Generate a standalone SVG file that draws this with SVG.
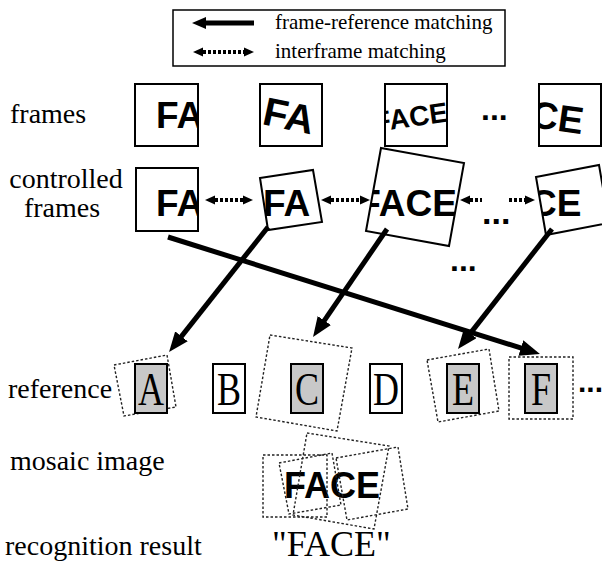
<svg xmlns="http://www.w3.org/2000/svg" width="602" height="565" viewBox="0 0 602 565">
<style>
.lbl{font-family:"Liberation Serif","Times New Roman",serif;font-size:28px;fill:#000}
.leg{font-family:"Liberation Serif","Times New Roman",serif;font-size:21px;fill:#000}
.big{font-family:"Liberation Sans",Arial,sans-serif;font-weight:bold;fill:#000}
.box{fill:#fff;stroke:#000;stroke-width:2}
.dot{fill:none;stroke:#222;stroke-width:1.4;stroke-dasharray:2.5 2}
.rbox{stroke:#000;stroke-width:2}
.gray{fill:#c8c8c8}
.white{fill:#fff}
.letter{font-family:"Liberation Serif","Times New Roman",serif;font-size:36px;fill:#000}
.solid{stroke:#000;stroke-width:5;fill:none}
.dash{stroke:#000;stroke-width:4;stroke-dasharray:3 2;fill:none}
</style>
<defs>
<marker id="ah" markerUnits="userSpaceOnUse" markerWidth="20" markerHeight="16" refX="8" refY="8" orient="auto"><path d="M0,0 L20,8 L0,16 z" fill="#000"/></marker>
<marker id="dh" markerUnits="userSpaceOnUse" markerWidth="10" markerHeight="10" refX="0" refY="5" orient="auto-start-reverse"><path d="M0,0.5 L10,5 L0,9.5 z" fill="#000"/></marker>
<clipPath id="f1"><rect x="135" y="84" width="63" height="62"/></clipPath>
<clipPath id="f2"><rect x="260" y="84" width="62" height="62"/></clipPath>
<clipPath id="f3"><rect x="385" y="84" width="62" height="62"/></clipPath>
<clipPath id="f4"><rect x="539" y="84" width="62" height="62"/></clipPath>
<clipPath id="c1"><rect x="136" y="168" width="62" height="63"/></clipPath>
<clipPath id="c2"><polygon points="260,178 313,170 322,222 268,230"/></clipPath>
<clipPath id="c3"><polygon points="381,148 464,163 449,246 366,231"/></clipPath>
<clipPath id="c4"><polygon points="536,177 599,165 609,223 546,235"/></clipPath>
</defs>

<g id="legend">
<rect x="173" y="10" width="332" height="56" fill="#fff" stroke="#000" stroke-width="1.5"/>
<line x1="254" y1="23" x2="204" y2="23" stroke="#000" stroke-width="5"/>
<path d="M192,23 L206,17 L206,29 z" fill="#000"/>
<text class="leg" x="275" y="29">frame-reference matching</text>
<line x1="203" y1="52" x2="244" y2="52" class="dash" marker-start="url(#dh)" marker-end="url(#dh)"/>
<text class="leg" x="275" y="58">interframe matching</text>
</g>

<g id="labels">
<text class="lbl" x="10" y="123">frames</text>
<text class="lbl" x="66" y="188" text-anchor="middle">controlled</text>
<text class="lbl" x="62" y="217" text-anchor="middle">frames</text>
<text class="lbl" x="8" y="398">reference</text>
<text class="lbl" x="10" y="470">mosaic image</text>
<text class="lbl" x="5" y="555">recognition result</text>
</g>

<g id="frames">
<g id="frame1"><rect class="box" x="135" y="84" width="63" height="62"/>
<text class="big" font-size="37" x="156" y="128" clip-path="url(#f1)">FA</text></g>
<g id="frame2"><rect class="box" x="260" y="84" width="62" height="62"/>
<g clip-path="url(#f2)"><text class="big" font-size="40" x="289" y="130" text-anchor="middle" transform="rotate(12 291 115)">FA</text></g></g>
<g id="frame3"><rect class="box" x="385" y="84" width="62" height="62"/>
<g clip-path="url(#f3)"><text class="big" font-size="28" x="448" y="126" text-anchor="end" transform="rotate(-8 416 117)">FACE</text></g></g>
<g id="frame4"><rect class="box" x="539" y="84" width="62" height="62"/>
<g clip-path="url(#f4)"><text class="big" font-size="38" x="531" y="131" transform="rotate(8 560 117)">CE</text></g></g>
<text class="big" font-size="32" x="481" y="120">...</text>
</g>

<g id="controlled">
<g id="cf1"><rect class="box" x="136" y="168" width="62" height="63"/>
<text class="big" font-size="37" x="156" y="216" clip-path="url(#c1)">FA</text></g>
<g id="cf2"><polygon class="box" points="260,178 313,170 322,222 268,230"/>
<text class="big" font-size="37" x="263" y="216" clip-path="url(#c2)">FA</text></g>
<g id="cf3"><polygon class="box" points="381,148 464,163 449,246 366,231"/>
<text class="big" font-size="37" x="457" y="216" text-anchor="end" clip-path="url(#c3)">FACE</text></g>
<g id="cf4"><polygon class="box" points="536,177 599,165 609,223 546,235"/>
<text class="big" font-size="37" x="530" y="216" clip-path="url(#c4)">CE</text></g>
<text class="big" font-size="34" x="482" y="224">...</text>
<text class="big" font-size="32" x="450" y="271">...</text>
</g>

<g id="reference">
<polygon class="dot" points="114,365 167,355 176,407 124,416"/>
<polygon class="dot" points="270,335 352,348 337,431 256,417"/>
<polygon class="dot" points="427,360 489,349 499,411 438,422"/>
<rect class="dot" x="509" y="357" width="64" height="62"/>
<g id="refA"><rect class="rbox gray" x="135" y="364" width="32" height="49"/><text class="letter" text-anchor="middle" transform="translate(151 405) scale(1 1.3)">A</text></g>
<g id="refB"><rect class="rbox white" x="213" y="364" width="32" height="49"/><text class="letter" text-anchor="middle" transform="translate(229 405) scale(1 1.3)">B</text></g>
<g id="refC"><rect class="rbox gray" x="291" y="364" width="32" height="49"/><text class="letter" text-anchor="middle" transform="translate(307 405) scale(1 1.3)">C</text></g>
<g id="refD"><rect class="rbox white" x="370" y="364" width="32" height="49"/><text class="letter" text-anchor="middle" transform="translate(386 405) scale(1 1.3)">D</text></g>
<g id="refE"><rect class="rbox gray" x="447" y="364" width="32" height="49"/><text class="letter" text-anchor="middle" transform="translate(463 405) scale(1 1.3)">E</text></g>
<g id="refF"><rect class="rbox gray" x="525" y="364" width="32" height="49"/><text class="letter" text-anchor="middle" transform="translate(541 405) scale(1 1.3)">F</text></g>
<text class="big" font-size="30" x="578" y="392">...</text>
</g>

<g id="mosaic">
<text class="big" font-size="36" x="284" y="498">FACE</text>
<rect class="dot" x="263" y="455" width="64" height="62"/>
<polygon class="dot" points="279,463 332,453 341,505 289,514"/>
<polygon class="dot" points="307,433 389,446 374,529 293,515"/>
<polygon class="dot" points="336,458 398,447 408,509 347,520"/>
</g>

<g id="result">
<text class="lbl" x="272" y="556" style="font-size:36px">"FACE"</text>
</g>

<g id="connectors">
<line class="solid" x1="168" y1="237" x2="528.5" y2="350.4" marker-end="url(#ah)"/>
<line class="solid" x1="268" y1="227" x2="176.5" y2="342.6" marker-end="url(#ah)"/>
<line class="solid" x1="387" y1="229" x2="319.8" y2="327.1" marker-end="url(#ah)"/>
<line class="solid" x1="552" y1="229" x2="465.4" y2="339.6" marker-end="url(#ah)"/>
<line class="dash" x1="215" y1="200" x2="243" y2="200" marker-start="url(#dh)" marker-end="url(#dh)"/>
<line class="dash" x1="331" y1="200" x2="360" y2="200" marker-start="url(#dh)" marker-end="url(#dh)"/>
<line class="dash" x1="470" y1="200" x2="482" y2="200" marker-start="url(#dh)"/>
<line class="dash" x1="509" y1="200" x2="525" y2="200" marker-end="url(#dh)"/>
</g>
</svg>
